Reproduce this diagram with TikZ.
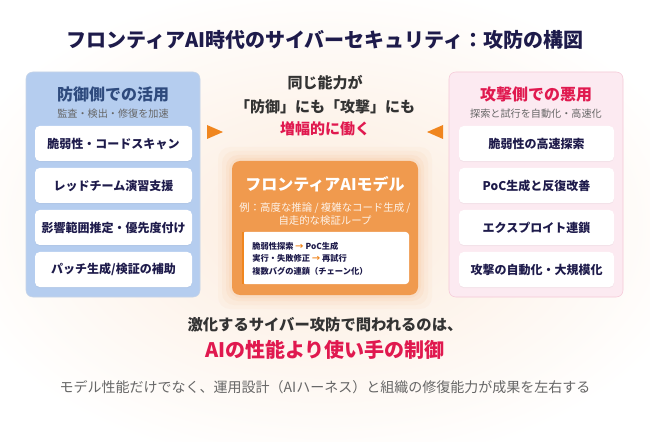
\documentclass[tikz,border=0pt]{standalone}
\usepackage{fontspec}
\setmainfont{Noto Sans CJK JP}
\usetikzlibrary{positioning, shadows}

\definecolor{navy}{HTML}{1E1B4B}
\definecolor{defblue}{HTML}{2E4A7D}
\definecolor{panelblue}{HTML}{B5CDEF}
\definecolor{panelpink}{HTML}{FCEAF1}
\definecolor{pinkline}{HTML}{F5C8D7}
\definecolor{alert}{HTML}{E0194F}
\definecolor{accent}{HTML}{F0861F}
\definecolor{modelorange}{HTML}{F09A4E}
\definecolor{peach}{HTML}{FCEBDC}
\definecolor{darktext}{HTML}{333333}
\definecolor{subtext}{HTML}{666666}

\newcommand{\fsz}[1]{\fontsize{#1}{#1}\selectfont}

\begin{document}
\begin{tikzpicture}[
    x=0.75pt, y=-0.75pt,
    % Panel styling
    panel/.style={rounded corners=5pt, minimum width=130.5pt, minimum height=168.75pt, inner sep=0pt},
    % Card styling
    card/.style={fill=white, rounded corners=3.5pt, minimum height=26.25pt, inner sep=0pt, align=center,
        font=\bfseries\fsz{9}, text=navy, drop shadow={opacity=0.07, shadow xshift=0pt, shadow yshift=-0.8pt}},
    paneltitle/.style={font=\bfseries\fsz{12}},
    panelsub/.style={font=\fsz{7.6}, text=subtext},
    midtext/.style={font=\bfseries\fsz{11.25}, text=darktext},
    modelline/.style={anchor=west, font=\bfseries\fsz{6.2}, text=navy, inner sep=0pt}
]

% ---------------------------------------------------
% 1. BACKGROUND
% ---------------------------------------------------
\useasboundingbox (0,0) rectangle (650,442);
\shade[inner color=peach, outer color=white] (-60,-20) rectangle (710,470);

% Title
\node[font=\bfseries\fsz{15}, text=navy] (title) at (325,40) {フロンティアAI時代のサイバーセキュリティ：攻防の構図};

% ---------------------------------------------------
% 2. PANELS (Defense left, attack right)
% ---------------------------------------------------
\node[panel, fill=panelblue, draw=panelblue!90!black!60] (defense) at (113,184.5) {};
\node[panel, fill=panelpink, draw=pinkline] (attack) at (536,184.5) {};

\node[paneltitle, text=defblue] (def_title) at (113,94) {防御側での活用};
\node[panelsub] (def_sub) at (113,114) {監査・検出・修復を加速};
\node[paneltitle, text=alert] (att_title) at (536,94) {攻撃側での悪用};
\node[panelsub] (att_sub) at (536,114) {探索と試行を自動化・高速化};

% Defense cards
\node[card, minimum width=117.75pt] (def_scan) at (113.5,143.5) {脆弱性・コードスキャン};
\node[card, minimum width=117.75pt] (def_red) at (113.5,185.5) {レッドチーム演習支援};
\node[card, minimum width=117.75pt] (def_impact) at (113.5,227.5) {影響範囲推定・優先度付け};
\node[card, minimum width=117.75pt] (def_patch) at (113.5,269.5) {パッチ生成/検証の補助};

% Attack cards
\node[card, minimum width=116.25pt] (att_search) at (536.5,143.5) {脆弱性の高速探索};
\node[card, minimum width=116.25pt] (att_poc) at (536.5,185.5) {PoC生成と反復改善};
\node[card, minimum width=116.25pt] (att_chain) at (536.5,227.5) {エクスプロイト連鎖};
\node[card, minimum width=116.25pt] (att_scale) at (536.5,269.5) {攻撃の自動化・大規模化};

% ---------------------------------------------------
% 3. CENTER MESSAGE AND ARROWS
% ---------------------------------------------------
\node[midtext] (same) at (325,83) {同じ能力が};
\node[midtext] (both) at (325,107) {「防御」にも「攻撃」にも};
\node[midtext, text=alert] (amplify) at (325,129) {増幅的に働く};

\fill[accent] (207,125) -- (223,132) -- (207,139) -- cycle;
\fill[accent] (443,125) -- (427,132) -- (443,139) -- cycle;

% ---------------------------------------------------
% 4. FRONTIER MODEL BOX
% ---------------------------------------------------
\foreach \g/\o in {14/0.04, 10/0.05, 6/0.07, 3/0.08}{
    \fill[modelorange, opacity=\o, rounded corners=9pt] (232-\g,161-\g) rectangle (418+\g,295+\g);
}
\node[panel, fill=modelorange, minimum width=139.5pt, minimum height=100.5pt, rounded corners=6pt] (model) at (325,228) {};
\node[font=\bfseries\fsz{12}, text=white] (model_title) at (325,184) {フロンティアAIモデル};
\node[font=\fsz{7.8}, text=white!88!modelorange, align=center] (model_sub) at (325,214)
    {例：高度な推論 / 複雑なコード生成 /\\[1pt]自走的な検証ループ};

\node[fill=white, minimum width=125.25pt, minimum height=39pt, inner sep=0pt, rounded corners=2.5pt] (model_flow) at (325.5,258) {};
\fill[accent] (model_flow.north west) rectangle ([xshift=2pt]model_flow.south west);

\node[modelline] (flow1) at (252,246) {脆弱性探索 {\color{accent}→} PoC生成};
\node[modelline] (flow2) at (252,258.5) {実行・失敗修正 {\color{accent}→} 再試行};
\node[modelline] (flow3) at (252,271) {複数バグの連鎖（チェーン化）};

% ---------------------------------------------------
% 5. CONCLUSION
% ---------------------------------------------------
\node[font=\bfseries\fsz{11.5}, text=darktext] (question) at (325,325) {激化するサイバー攻防で問われるのは、};
\node[font=\bfseries\fsz{15}, text=alert] (answer) at (325,350) {AIの性能より使い手の制御};
\node[font=\fsz{10.5}, text=subtext] (note) at (325,387) {モデル性能だけでなく、運用設計（AIハーネス）と組織の修復能力が成果を左右する};

\end{tikzpicture}
\end{document}
